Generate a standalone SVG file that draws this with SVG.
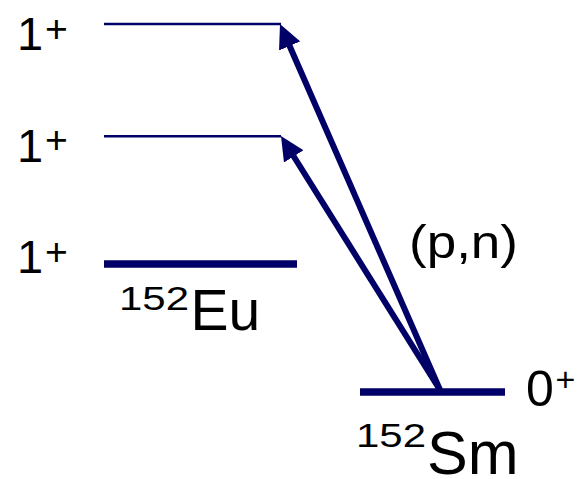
<svg xmlns="http://www.w3.org/2000/svg" width="579" height="479" viewBox="0 0 579 479">
  <style>
    .lvl { stroke: #000066; fill: none; }
    .thin { stroke-width: 2.6; }
    .thick { stroke-width: 7.5; }
    .arr { stroke: #000066; stroke-width: 6; fill: none; marker-end: url(#head); }
    text { font-family: "Liberation Sans", Arial, sans-serif; fill: #000; }
    .big { font-size: 47px; }
    .sup { font-size: 39px; }
    .iso { font-size: 34px; }
  </style>
  <defs>
    <marker id="head" markerUnits="userSpaceOnUse" markerWidth="24" markerHeight="24" viewBox="0 0 24 24" refX="4" refY="12" orient="auto">
      <path d="M0,0.5 L24,12 L0,23.5 Z" fill="#000066"/>
    </marker>
  </defs>

  <g id="level-eu-1">
    <line class="lvl thin" x1="104" y1="24" x2="281" y2="24"/>
    <text class="big" x="17" y="50">1<tspan class="sup" x="45" y="41.5">+</tspan></text>
  </g>
  <g id="level-eu-2">
    <line class="lvl thin" x1="104" y1="136.3" x2="281" y2="136.3"/>
    <text class="big" x="17" y="162">1<tspan class="sup" x="45" y="152.5">+</tspan></text>
  </g>
  <g id="level-eu-ground">
    <line class="lvl thick" x1="104" y1="264" x2="297" y2="264"/>
    <text class="big" x="17" y="273">1<tspan class="sup" x="45" y="265">+</tspan></text>
    <text><tspan class="iso" x="119" y="310" textLength="70" lengthAdjust="spacingAndGlyphs">152</tspan><tspan x="190.6" y="330" font-size="57">Eu</tspan></text>
  </g>
  <g id="level-sm-ground">
    <line class="lvl thick" x1="360" y1="392" x2="505" y2="392"/>
    <text x="526" y="406" font-size="50">0<tspan x="555.4" y="391.3" font-size="34">+</tspan></text>
    <text><tspan class="iso" x="356" y="447" textLength="70" lengthAdjust="spacingAndGlyphs">152</tspan><tspan x="427" y="474" font-size="61">Sm</tspan></text>
  </g>

  <g id="connectors">
    <line class="arr" x1="440" y1="390" x2="288" y2="42.3"/>
    <line class="arr" x1="440" y1="390" x2="291.6" y2="153"/>
    <text x="409" y="258" font-size="47" textLength="109" lengthAdjust="spacingAndGlyphs">(p,n)</text>
  </g>
</svg>
